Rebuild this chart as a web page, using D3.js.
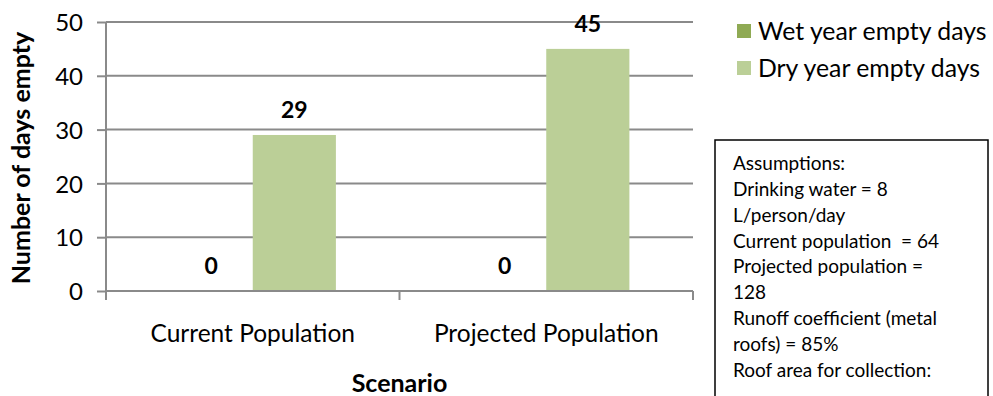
<!DOCTYPE html>
<html>
<head>
<meta charset="utf-8">
<script src="https://cdn.jsdelivr.net/npm/d3@7"></script>
<style>
  body { margin: 0; background: #fff; }
  text { font-family: Lato, "Open Sans", sans-serif; fill: #000; }
</style>
</head>
<body>
<div id="chart"></div>
<script>
// chart data
var scenarios = ["Current Population", "Projected Population"];
var seriesNames = ["Wet year empty days", "Dry year empty days"];
var wetDays = [0, 0];
var dryDays = [29, 45];
var yTicks = [0, 10, 20, 30, 40, 50];
var assumptions = [
    "Assumptions:",
    "Drinking water = 8",
    "L/person/day",
    "Current population  = 64",
    "Projected population =",
    "128",
    "Runoff coefficient (metal",
    "roofs) = 85%",
    "Roof area for collection:"
];

var colors = ["#8faa54", "#bbcf97"];

var W = 993, H = 396;
var plot = { left: 106, right: 693, top: 22, bottom: 291 };

var svg = d3.select("#chart").append("svg")
    .attr("width", W)
    .attr("height", H);

// scales
var x = d3.scaleBand().domain(scenarios).range([plot.left, plot.right]).padding(0);
var xs = d3.scaleBand().domain(seriesNames).range([0, x.bandwidth()])
    .paddingInner(0).paddingOuter(0.765);
var y = d3.scaleLinear().domain([0, 50]).range([plot.bottom, plot.top]);

// gridlines
svg.append("g")
    .selectAll("line")
    .data(yTicks.filter(function (d) { return d > 0; }))
    .enter().append("line")
    .attr("x1", plot.left)
    .attr("x2", plot.right)
    .attr("y1", function (d) { return y(d); })
    .attr("y2", function (d) { return y(d); })
    .style("stroke", "#8a8a8a")
    .style("stroke-width", 2);

// y axis
var yAxis = svg.append("g")
    .attr("transform", "translate(" + plot.left + ",0)")
    .call(d3.axisLeft(y).tickValues(yTicks).tickSize(9).tickPadding(14));
yAxis.select(".domain").style("stroke", "#8a8a8a").style("stroke-width", 2)
    .attr("d", "M0," + plot.top + "V" + plot.bottom);
yAxis.selectAll(".tick line").style("stroke", "#8a8a8a").style("stroke-width", 2);
yAxis.selectAll(".tick text")
    .style("font-family", "Lato")
    .style("font-size", "24px")
    .style("fill", "#000")
    .attr("dy", "0.36em");

// bars
var groups = svg.selectAll(".scenario")
    .data(scenarios)
    .enter().append("g")
    .attr("class", "scenario")
    .attr("transform", function (d) { return "translate(" + x(d) + ",0)"; });

var values = [wetDays, dryDays];
groups.each(function (s, i) {
    var g = d3.select(this);
    seriesNames.forEach(function (name, k) {
        var v = values[k][i];
        g.append("rect")
            .attr("x", xs(name))
            .attr("y", y(v))
            .attr("width", xs.bandwidth())
            .attr("height", y(0) - y(v))
            .style("fill", colors[k]);
        g.append("text")
            .attr("x", xs(name) + xs.bandwidth() / 2)
            .attr("y", y(v) - 25)
            .attr("dy", "0.36em")
            .attr("text-anchor", "middle")
            .style("font-weight", "bold")
            .style("font-size", "23px")
            .text(v);
    });
});

// x axis
var xAxis = svg.append("g")
    .attr("transform", "translate(0," + plot.bottom + ")");
xAxis.append("line")
    .attr("x1", plot.left).attr("x2", plot.right)
    .style("stroke", "#8a8a8a").style("stroke-width", 2);
xAxis.selectAll(".xtick")
    .data([plot.left, x(scenarios[1]), plot.right])
    .enter().append("line")
    .attr("class", "xtick")
    .attr("x1", function (d) { return d; })
    .attr("x2", function (d) { return d; })
    .attr("y1", 0).attr("y2", 9)
    .style("stroke", "#8a8a8a").style("stroke-width", 2);
xAxis.selectAll(".xlabel")
    .data(scenarios)
    .enter().append("text")
    .attr("class", "xlabel")
    .attr("x", function (d) { return x(d) + x.bandwidth() / 2; })
    .attr("y", 42)
    .attr("dy", "0.36em")
    .attr("text-anchor", "middle")
    .style("font-size", "24.5px")
    .text(function (d) { return d; });

// axis titles
svg.append("text")
    .attr("x", (plot.left + plot.right) / 2)
    .attr("y", 383)
    .attr("dy", "0.36em")
    .attr("text-anchor", "middle")
    .style("font-weight", "bold")
    .style("font-size", "25px")
    .text("Scenario");

svg.append("text")
    .attr("transform", "translate(21,158) rotate(-90)")
    .attr("dy", "0.36em")
    .attr("text-anchor", "middle")
    .style("font-weight", "bold")
    .style("font-size", "25px")
    .text("Number of days empty");

// legend
var legend = svg.selectAll(".legend")
    .data(seriesNames)
    .enter().append("g")
    .attr("class", "legend")
    .attr("transform", function (d, i) { return "translate(737," + (24 + i * 37) + ")"; });
legend.append("rect")
    .attr("width", 14).attr("height", 14)
    .style("fill", function (d, i) { return colors[i]; });
legend.append("text")
    .attr("x", 21)
    .attr("y", 7)
    .attr("dy", "0.36em")
    .style("font-size", "24.8px")
    .text(function (d) { return d; });

// assumptions text box
svg.append("rect")
    .attr("x", 715).attr("y", 140)
    .attr("width", 273).attr("height", 300)
    .style("fill", "#fff")
    .style("stroke", "#000")
    .style("stroke-width", 1.5);
svg.append("g").selectAll("text")
    .data(assumptions)
    .enter().append("text")
    .attr("x", 733)
    .attr("y", function (d, i) { return 163 + i * 25.9; })
    .attr("dy", "0.36em")
    .style("font-size", "19px")
    .style("white-space", "pre")
    .text(function (d) { return d; });
</script>
</body>
</html>
